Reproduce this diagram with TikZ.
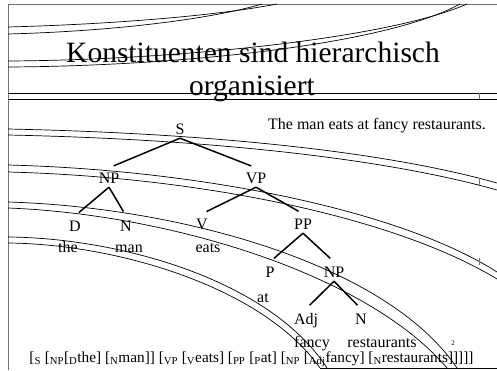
\documentclass[tikz,border=0pt]{standalone}
\usepackage{fontspec}
\setmainfont{Liberation Serif}
\usepackage{tikz}
\newcommand{\cat}[1]{\textsubscript{#1}}

\begin{document}
\begin{tikzpicture}[x=1pt, y=-1pt,
  frame/.style={draw=black!55, line width=0.8pt},
  band/.style={draw=black, line width=0.7pt},
  tick/.style={draw=black!55, line width=0.6pt},
  title/.style={font=\fontsize{29.5}{33}\selectfont, anchor=base, inner sep=0pt},
  lbl/.style={font=\fontsize{16}{19}\selectfont, anchor=base, inner xsep=2pt, inner ysep=4pt, text height=11pt, text depth=0pt},
  word/.style={font=\fontsize{16}{19}\selectfont, anchor=base, inner sep=0pt},
  branch/.style={line width=1.5pt, shorten >=5pt}
]
  \useasboundingbox (0,0) rectangle (497,370);

  % slide frame and background bands
  \draw[frame] (8,370) -- (8,4) -- (497,4);
  \draw[band] (8,27) .. controls (120,24) and (220,15) .. (277,4);
  \draw[band] (8,34) .. controls (120,31) and (215,18) .. (262,4);
  \draw[band] (8,61) .. controls (180,60) and (390,38) .. (467,4);
  \draw[band] (8,67) .. controls (180,66) and (385,45) .. (460,4);
  \draw[band] (8,93) -- (497,93);
  \draw[band] (8,99) -- (497,99);
  \draw[band] (8,129) .. controls (200,133) and (380,150) .. (497,183);
  \draw[band] (8,135) .. controls (200,139) and (380,157) .. (497,190);
  \draw[band] (8,165) .. controls (200,170) and (400,210) .. (497,272);
  \draw[band] (8,172) .. controls (200,177) and (395,217) .. (497,279);
  \draw[band] (8,202) .. controls (175,207) and (385,262) .. (457,368);
  \draw[band] (8,208) .. controls (165,214) and (365,272) .. (447,368);
  \draw[band] (8,237) .. controls (120,238) and (270,280) .. (327,368);
  \draw[band] (8,243) .. controls (115,244) and (262,286) .. (320,368);
  \draw[band] (320,368) -- (497,368);
  \draw[tick] (479,93) -- (479,99);
  \draw[tick] (479,178) -- (479,185);
  \draw[tick] (479,258) -- (479,265);

  \node[title] (t1) at (253,62) {Konstituenten sind hierarchisch};
  \node[title] (t2) at (252,95) {organisiert};
  \node[word] (sent) at (377,129) {The man eats at fancy restaurants.};

  % tree
  \node[lbl] (S) at (180,134) {S};
  \node[lbl] (np) at (109,183) {NP};
  \node[lbl] (vp) at (256,183) {VP};
  \node[lbl] (d) at (75,231) {D};
  \node[lbl] (n) at (126,231) {N};
  \node[lbl] (v) at (202,229) {V};
  \node[lbl] (pp) at (303,229) {PP};
  \node[lbl] (p) at (270,277) {P};
  \node[lbl] (np2) at (334,277) {NP};
  \node[lbl] (adj) at (306,324) {Adj};
  \node[lbl] (n2) at (361,324) {N};

  \node[word] (the) at (68,252) {the};
  \node[word] (man) at (129,252) {man};
  \node[word] (eats) at (208,252) {eats};
  \node[word] (at) at (263,302) {at};
  \node[word] (fancy) at (312,347) {fancy};
  \node[word] (rest) at (382,347) {restaurants};

  \draw[branch] (S.south) -- (np.north);
  \draw[branch] (S.south) -- (vp.north);
  \draw[branch] (np.south) -- (d.north);
  \draw[branch] (np.south) -- (n.north);
  \draw[branch] (vp.south) -- (v.north);
  \draw[branch] (vp.south) -- (pp.north);
  \draw[branch] (pp.south) -- (p.north);
  \draw[branch] (pp.south) -- (np2.north);
  \draw[branch] (np2.south) -- (adj.north);
  \draw[branch] (np2.south) -- (n2.north);

  \node[font=\fontsize{7}{8}\selectfont, anchor=base, inner sep=0pt] (page) at (453,345) {2};
  \node[word, font=\fontsize{15.3}{18}\selectfont] (brackets) at (251.5,362) {[\cat{S} [\cat{NP}[\cat{D}the] [\cat{N}man]] [\cat{VP} [\cat{V}eats] [\cat{PP} [\cat{P}at] [\cat{NP} [\cat{Adj}fancy] [\cat{N}restaurants]]]]]};
\end{tikzpicture}
\end{document}
